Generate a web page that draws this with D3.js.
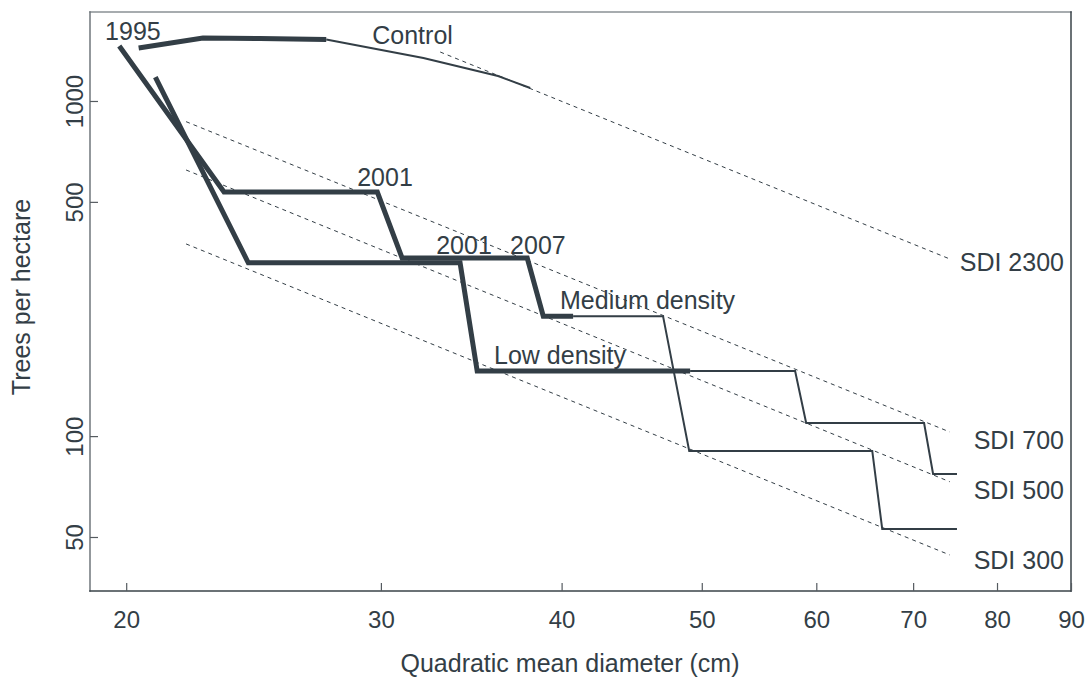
<!DOCTYPE html>
<html>
<head>
<meta charset="utf-8">
<script src="https://cdn.jsdelivr.net/npm/d3@7"></script>
<style>
  html, body { margin: 0; padding: 0; background: #ffffff; }
  svg { display: block; font-family: "Liberation Sans", Arial, sans-serif; }
</style>
</head>
<body>
<svg id="chart" width="1091" height="684"></svg>
<script>
// ---- data (diameter cm, trees per hectare) ----
const xTicks = [20, 30, 40, 50, 60, 70, 80, 90];
const yTicks = [50, 100, 500, 1000];

const controlObserved  = [[20.4, 1440], [22.6, 1542], [24.75, 1536], [27.5, 1526]];
const controlProjected = [[27.5, 1526], [32.1, 1344], [36.15, 1187], [38.05, 1093]];

const mediumObserved  = [[19.78, 1459], [23.37, 535], [29.83, 535], [31.03, 340], [37.87, 340], [38.85, 228], [40.74, 228]];
const mediumProjected = [[40.74, 228], [47.01, 228], [49.01, 90.3], [65.59, 90.3], [66.64, 52.8], [75.06, 52.8]];

const lowObserved  = [[20.95, 1179], [24.29, 329], [34.03, 329], [34.97, 156.4], [49.08, 156.4]];
const lowProjected = [[49.08, 156.4], [58.01, 156.4], [59.04, 109.4], [71.23, 109.4], [72.26, 77.1], [75.06, 77.1]];

const sdiNames = ["SDI 2300", "SDI 700", "SDI 500", "SDI 300"];
const sdiStart = [[32.97, 1400], [22.0, 867.6], [22.0, 622.5], [22.0, 374.5]];
const sdiEnd   = [[74.2, 337.8], [74.2, 102.9], [74.2, 73.1], [74.2, 44.2]];
const sdiLabelAt = [[89.0, 330.7], [89.0, 97.4], [89.0, 69.1], [89.0, 42.7]];

const noteText = ["1995", "Control", "2001", "2001", "2007", "Medium density", "Low density"];
const noteAt   = [[19.34, 1618], [29.59, 1574], [28.89, 593], [32.76, 371.8], [36.85, 371.8], [39.9, 254.8], [35.92, 174.6]];

const xTitle = "Quadratic mean diameter (cm)";
const yTitle = "Trees per hectare";

// ---- layout ----
const ink = "#333e46";
const mLeft = 90, mRight = 1071, mTop = 12, mBottom = 591;
const svg = d3.select("#chart");

const x = d3.scaleLog().domain([18.88, 90]).range([mLeft, mRight]);
const y = d3.scaleLog().domain([34.5, 1843]).range([mBottom, mTop]);

// frame (top and left lighter, right and bottom dark)
const frame = [
  [mLeft, mTop, mRight, mTop, "#8a9094"],
  [mLeft, mTop, mLeft, mBottom, "#6f767b"],
  [mRight, mTop, mRight, mBottom, "#3a4349"],
  [mLeft, mBottom, mRight, mBottom, "#3a4349"]
];
frame.forEach(f => svg.append("line")
  .attr("x1", f[0]).attr("y1", f[1]).attr("x2", f[2]).attr("y2", f[3])
  .attr("stroke", f[4]).attr("stroke-width", 1.5).attr("stroke-linecap", "square"));

// axes
const gx = svg.append("g").attr("transform", `translate(0,${mBottom})`)
  .call(d3.axisBottom(x).tickValues(xTicks).tickSizeInner(-8).tickSizeOuter(0).tickFormat(d3.format("d")));
gx.select(".domain").remove();
gx.selectAll(".tick line").attr("stroke", "#555b60").attr("stroke-width", 1.2);
gx.selectAll(".tick text").remove();
gx.selectAll(".tick").append("text")
  .attr("y", 37).attr("text-anchor", "middle")
  .attr("fill", ink).attr("font-size", 24)
  .text(d => d);

const gy = svg.append("g").attr("transform", `translate(${mLeft},0)`)
  .call(d3.axisLeft(y).tickValues(yTicks).tickSizeInner(-8).tickSizeOuter(0));
gy.select(".domain").remove();
gy.selectAll(".tick line").attr("stroke", "#555b60").attr("stroke-width", 1.2);
gy.selectAll(".tick text").remove();
gy.selectAll(".tick").append("text")
  .attr("transform", "translate(-7,0) rotate(-90)")
  .attr("text-anchor", "middle")
  .attr("fill", ink).attr("font-size", 24)
  .text(d => d);

// axis titles
svg.append("text").attr("x", 570).attr("y", 672)
  .attr("text-anchor", "middle").attr("fill", ink).attr("font-size", 25)
  .text(xTitle);
svg.append("text").attr("transform", `translate(30,297) rotate(-90)`)
  .attr("text-anchor", "middle").attr("fill", ink).attr("font-size", 25)
  .text(yTitle);

// SDI reference lines
const line = d3.line().x(d => x(d[0])).y(d => y(d[1]));
sdiNames.forEach((name, i) => {
  svg.append("path").datum([sdiStart[i], sdiEnd[i]])
    .attr("d", line).attr("fill", "none")
    .attr("stroke", ink).attr("stroke-width", 1)
    .attr("stroke-dasharray", "4,4");
  svg.append("text")
    .attr("x", x(sdiLabelAt[i][0])).attr("y", y(sdiLabelAt[i][1]))
    .attr("text-anchor", "end").attr("dominant-baseline", "central")
    .attr("fill", ink).attr("font-size", 25)
    .text(name);
});

// trajectories
const thin = [controlProjected, mediumProjected, lowProjected];
const thick = [controlObserved, mediumObserved, lowObserved];
thin.forEach(s => svg.append("path").datum(s).attr("d", line)
  .attr("fill", "none").attr("stroke", ink).attr("stroke-width", 2)
  .attr("stroke-linejoin", "miter"));
thick.forEach(s => svg.append("path").datum(s).attr("d", line)
  .attr("fill", "none").attr("stroke", ink).attr("stroke-width", 5)
  .attr("stroke-linejoin", "miter").attr("stroke-miterlimit", 10));

// annotations
noteText.forEach((t, i) => {
  svg.append("text")
    .attr("x", x(noteAt[i][0])).attr("y", y(noteAt[i][1]))
    .attr("dominant-baseline", "central")
    .attr("fill", ink).attr("font-size", 25)
    .text(t);
});
</script>
</body>
</html>
